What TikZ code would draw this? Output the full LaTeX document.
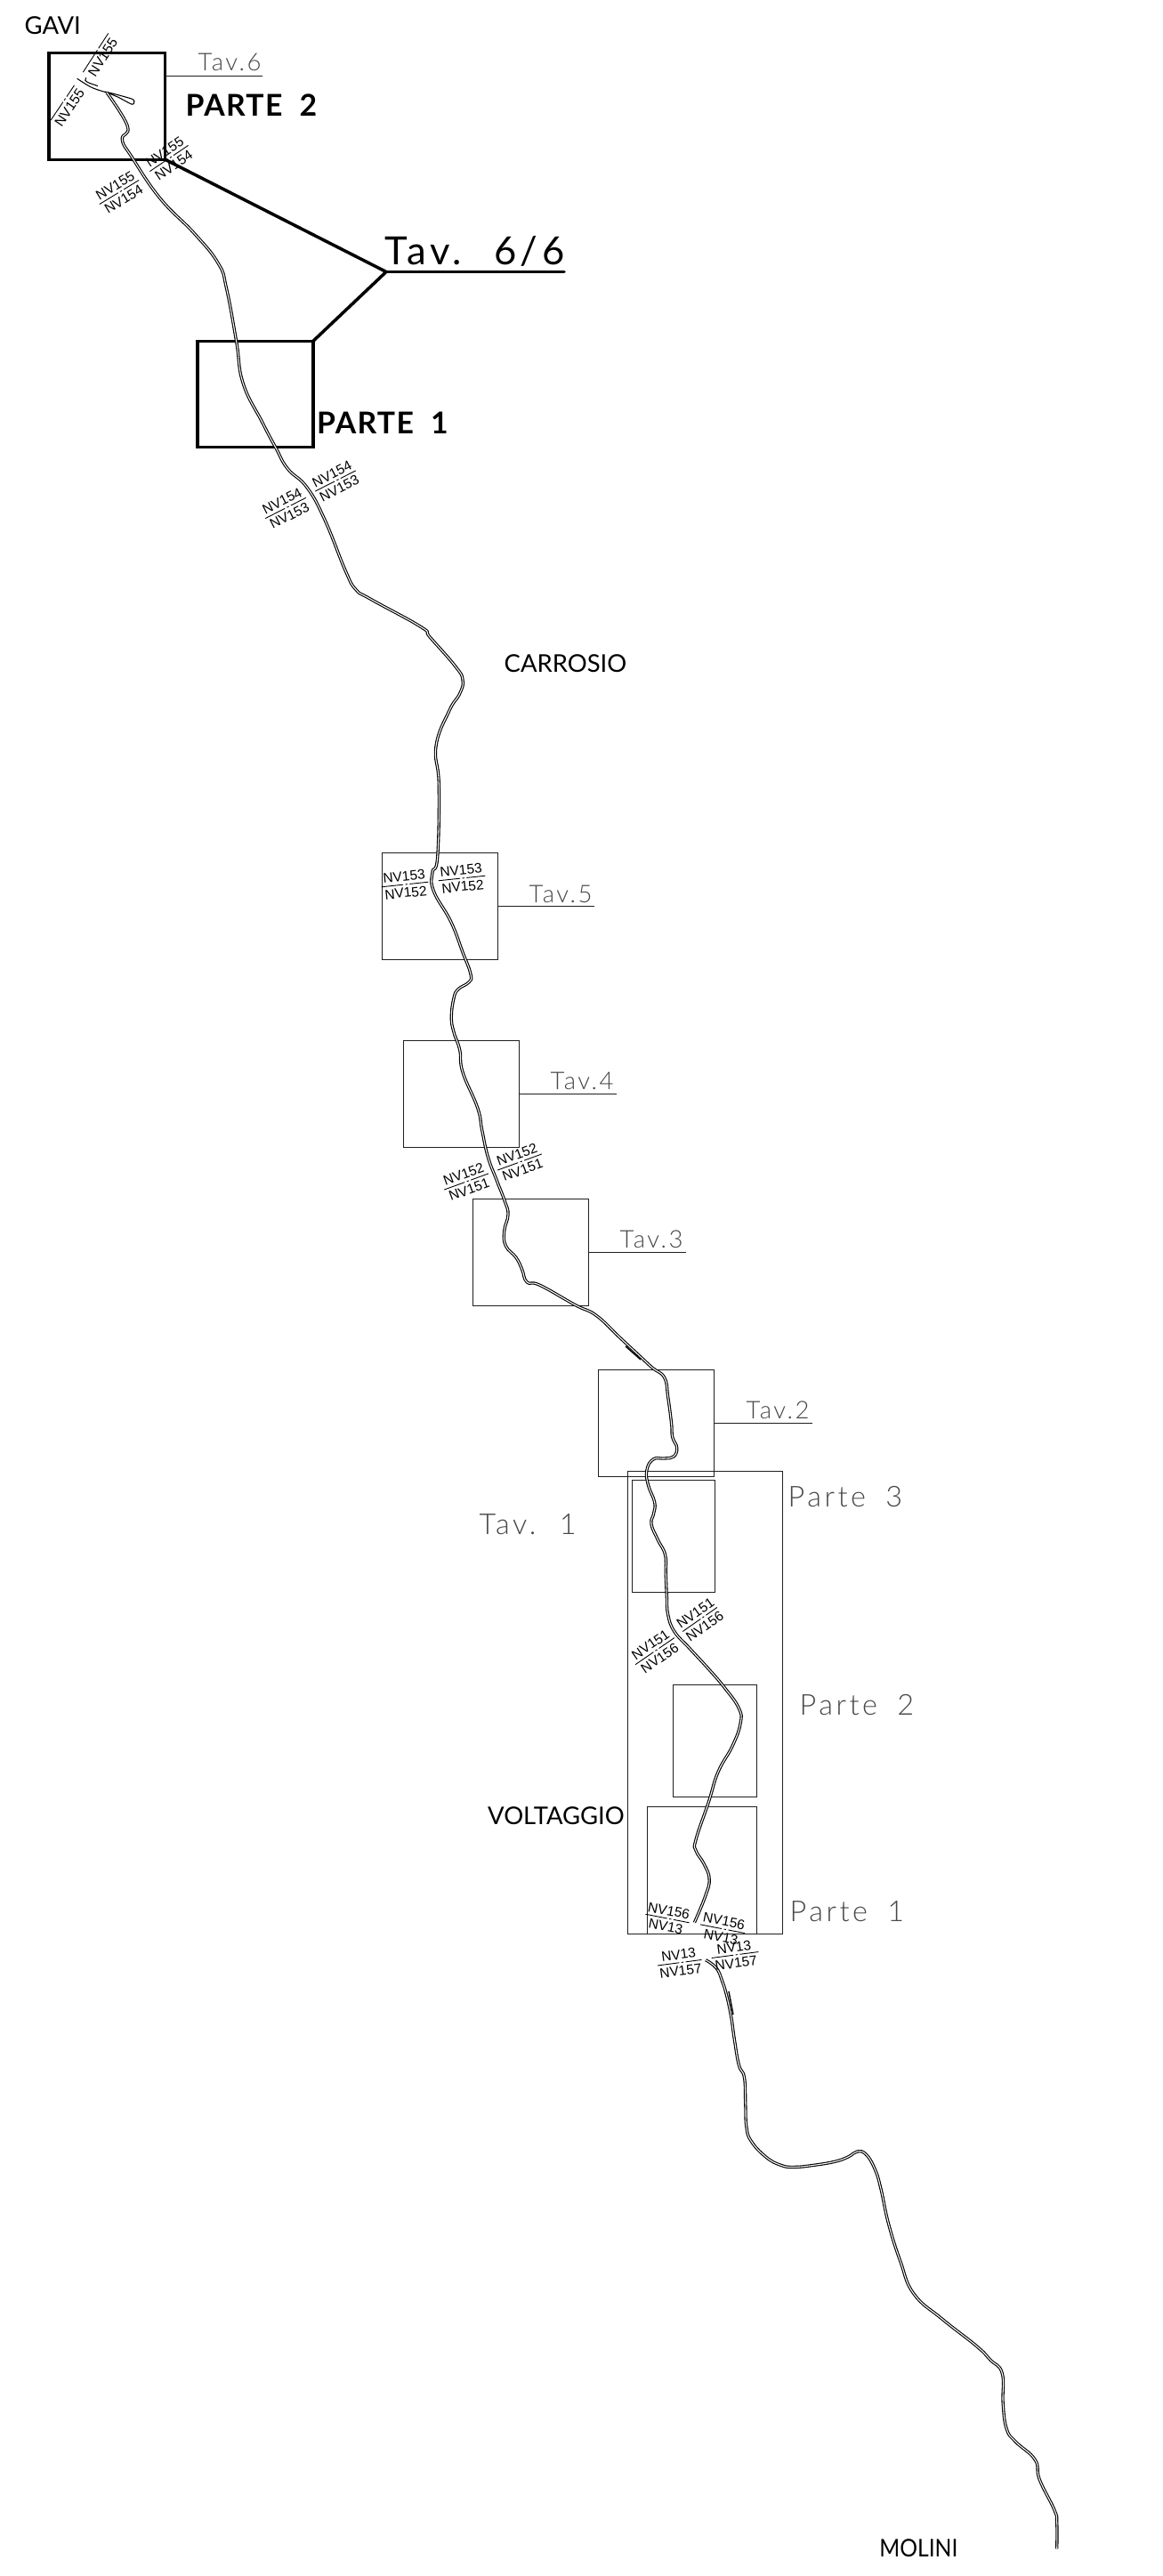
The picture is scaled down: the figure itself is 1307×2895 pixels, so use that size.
\documentclass[tikz,border=0pt]{standalone}
\usepackage{fontspec}
\usepackage{xcolor}
\usetikzlibrary{positioning}
\newfontfamily\cadthin[LetterSpace=9]{Lato Light}
\newfontfamily\cadwide[LetterSpace=11,WordSpace=1.8]{Lato Light}
\newfontfamily\cadplain{Lato}
\newfontfamily\cadtitle[LetterSpace=10,WordSpace=2]{Lato}
\newfontfamily\cadbold[LetterSpace=4,WordSpace=2]{Lato Bold}
\newfontfamily\cadtag{Liberation Sans}
\definecolor{ink}{rgb}{0.12,0.12,0.12}
\definecolor{plot}{rgb}{0.28,0.28,0.28}
\tikzset{
  sheet/.style={draw=ink,line width=0.29pt,inner sep=0,outer sep=0},
  heavysheet/.style={draw=black,line width=0.9pt,inner sep=0,outer sep=0},
  leader/.style={draw=ink,line width=0.29pt},
  heavyleader/.style={draw=black,line width=1pt,line cap=round},
  sheetname/.style={inner sep=0,anchor=base west,text=plot,font=\cadthin\fontsize{7.8}{10}\selectfont},
  widename/.style={inner sep=0,anchor=base west,text=plot,font=\cadwide\fontsize{9.2}{11}\selectfont},
  place/.style={inner sep=0,anchor=base west,font=\cadplain\fontsize{7.8}{10}\selectfont},
  partname/.style={inner sep=0,anchor=base west,font=\cadbold\fontsize{9.6}{12}\selectfont},
  nvtext/.style={inner sep=0,outer sep=0,align=center,text height=3.2pt,text depth=0pt,font=\cadtag\fontsize{4.4}{5}\selectfont},
  nvrule/.style={line width=0.25pt,dash pattern=on 7pt off 0.7pt on 0.7pt off 0.7pt},
  road/.style={draw=black,line width=0.32pt,double=white,double distance=0.3pt},
  roadedge/.style={draw=black,line width=0.3pt},
}
% id, position, angle, length, upper text, lower text
\newcommand{\nvtag}[6]{
  \node[nvtext,rotate=#3,anchor=south,minimum width=#4] (#1up) at (#2) {\raisebox{1pt}{#5}};
  \node[nvtext,rotate=#3,anchor=north,minimum width=#4] (#1low) at (#2) {\raisebox{-1pt}[\height][0pt]{#6}};
  \draw[nvrule] (#1up.south west) -- (#1up.south east);
}
\begin{document}
\begin{tikzpicture}[x=0.01cm,y=-0.01cm]
  \useasboundingbox (0,0) rectangle (1307,2895);

  % sheets
  \node[heavysheet,minimum width=1.305cm,minimum height=1.2cm] (partetwo) at (120.25,119.25) {};
  \node[heavysheet,minimum width=1.3cm,minimum height=1.195cm] (parteone) at (287,443) {};
  \node[sheet,minimum width=1.3cm,minimum height=1.2cm] (tavfive) at (494.5,1018.5) {};
  \node[sheet,minimum width=1.3cm,minimum height=1.2cm] (tavfour) at (518.5,1229.5) {};
  \node[sheet,minimum width=1.3cm,minimum height=1.2cm] (tavthree) at (596.5,1407.5) {};
  \node[sheet,minimum width=1.3cm,minimum height=1.2cm] (tavtwo) at (737.5,1599.5) {};
  \node[sheet,minimum width=1.74cm,minimum height=5.2cm] (tavone) at (792.5,1913.5) {};
  \node[sheet,minimum width=0.93cm,minimum height=1.26cm] (secthree) at (757,1726.5) {};
  \node[sheet,minimum width=0.94cm,minimum height=1.26cm] (sectwo) at (803.5,1956.5) {};
  \node[sheet,minimum width=1.23cm,minimum height=1.43cm] (secone) at (789,2102) {};

  % leaders
  \coordinate (tavsixstart) at (185.5,85.5);
  \coordinate (tavsixend) at (295,85.5);
  \coordinate (tavfiveend) at (668,1018.5);
  \coordinate (tavfourend) at (693,1229.5);
  \coordinate (tavthreeend) at (771,1407.5);
  \coordinate (tavtwoend) at (913,1599.5);
  \coordinate (tavjoin) at (434,305.5);
  \coordinate (tavlast) at (634,305.5);
  \draw[leader] (tavsixstart) -- (tavsixend);
  \draw[leader] (tavfive.east) -- (tavfiveend);
  \draw[leader] (tavfour.east) -- (tavfourend);
  \draw[leader] (tavthree.east) -- (tavthreeend);
  \draw[leader] (tavtwo.east) -- (tavtwoend);
  \draw[heavyleader] (partetwo.south east) -- (tavjoin);
  \draw[heavyleader] (parteone.north east) -- (tavjoin);
  \draw[heavyleader] (tavjoin) -- (tavlast);

  % road
  \draw[roadedge] plot[smooth,tension=0.6] coordinates {(86.7,88.3) (103,98.3) (120,104)};
  \draw[roadedge] (96.7,87.3) .. controls (93,92) and (100,93) .. (110,96.7);
  \draw[roadedge] plot[smooth cycle,tension=0.4] coordinates {(120,103.5) (148.3,111.2) (150.7,115) (148.3,117.3) (133.3,109.5)};
  \draw[road] plot[smooth,tension=0.75] coordinates {(120,104) (143.3,141.7) (137.3,156.7) (148.3,176.7) (180,223) (218.8,262.8) (245.5,296.4) (254.5,324) (265.6,383.4) (273.2,430.8) (294.6,474.3) (310.3,504) (323.3,526.8) (345,547.8) (365,584.2) (388.3,641.6) (400,662.6) (416.7,673.4) (473.3,704.7) (483.3,716.2) (511.7,748.8) (520,764) (516.7,779.4) (505,798.5) (490,838.7) (493.3,882.7) (491.7,963) (486,980.3) (487.3,1001.3) (506.7,1035.8) (520,1070.2) (529,1095) (526.7,1104) (515,1111.7) (510,1121.7) (507.3,1143.3) (510,1160) (516.7,1180) (520,1205) (536.7,1245) (541.7,1270) (548.3,1300) (558.3,1326.7) (567.3,1350) (571,1365) (566.7,1383.3) (568.3,1400) (580,1413.3) (586.7,1426.7) (592.3,1441) (606.7,1444.3) (646.7,1466.7) (670,1478.3) (696.7,1503.3) (720,1525) (733.3,1537.3) (746.7,1548.3) (750.7,1570) (754.6,1600) (755.7,1615) (760.7,1627) (757,1637) (746.4,1639) (734,1640) (726.8,1652.6) (728.6,1669.4) (735.7,1688.4) (734.6,1701) (732,1712.8) (739.3,1730.5) (747.5,1747.3) (748.2,1768.4) (749.3,1793.6) (750.7,1814.6) (757.9,1833.6) (775,1852.5) (796.4,1875.7) (814.3,1896.7) (830.4,1919.9) (832.1,1936.7) (823.2,1962) (807,1991.4) (796.4,2025) (782.1,2067.2) (782.1,2079.8) (791,2094.5) (797.1,2111.4) (792.9,2130.3) (780.4,2160.6)};
  \draw[road] plot[smooth,tension=0.75] coordinates {(793,2202.7) (805,2211.7) (811.7,2226.7) (816.7,2243) (821.7,2266.7) (825.4,2292.4) (830.4,2320.8) (836.5,2334.9) (837.8,2365.3) (838.8,2389.6) (843.9,2405.8) (860.7,2424) (877.5,2433.3) (892.6,2435.4) (914.5,2433.3) (938,2429.3) (953.1,2424) (963.2,2418) (973.3,2421.2) (983.4,2438.2) (990.1,2460.5) (998.5,2499) (1011.9,2541.5) (1027,2577.9) (1059,2606.3) (1097.6,2636.7) (1112.8,2652) (1126.2,2667) (1127.2,2701.5) (1131.3,2729.8) (1141.3,2744) (1163.2,2764.3) (1168.2,2786.5) (1185,2821) (1187.7,2835) (1187.7,2864.3)};
  \draw[line width=0.4pt] (703,1513) -- (720,1528);
  \draw[line width=0.4pt] (819,2238) -- (824,2264);

  % section marks
  \nvtag{nvlow}{134,216}{31.4}{0.52cm}{NV155}{NV154}
  \nvtag{nvcorner}{190,178}{34}{0.52cm}{NV155}{NV154}
  \nvtag{nvfourl}{321,571}{27}{0.51cm}{NV154}{NV153}
  \nvtag{nvfourr}{377,540.5}{27}{0.51cm}{NV154}{NV153}
  \nvtag{nvthreel}{455,994}{6}{0.53cm}{NV153}{NV152}
  \nvtag{nvthreer}{519,987}{6}{0.53cm}{NV153}{NV152}
  \nvtag{nvtwol}{524,1328}{20}{0.53cm}{NV152}{NV151}
  \nvtag{nvtwor}{584,1306}{20}{0.53cm}{NV152}{NV151}
  \nvtag{nvonel}{736,1855.6}{34.5}{0.53cm}{NV151}{NV156}
  \nvtag{nvoner}{786.5,1820}{35}{0.44cm}{NV151}{NV156}
  \nvtag{nvsixl}{750,2156}{-11}{0.5cm}{NV156}{NV13}
  \nvtag{nvsixr}{812,2167.7}{-11}{0.51cm}{NV156}{NV13}
  \nvtag{nvthirl}{763.7,2205.7}{7.5}{0.5cm}{NV13}{NV157}
  \nvtag{nvthirr}{826,2197}{7.5}{0.53cm}{NV13}{NV157}
  \node[nvtext,rotate=56,anchor=north,minimum width=0.47cm] (nvtopl) at (70.3,115.5) {\raisebox{-1pt}[\height][0pt]{NV155}};
  \draw[nvrule] (nvtopl.north west) -- (nvtopl.north east);
  \node[nvtext,rotate=57,anchor=north,minimum width=0.52cm] (nvtopr) at (107.5,59.3) {\raisebox{-1pt}[\height][0pt]{NV155}};
  \draw[nvrule] (nvtopr.north west) -- (nvtopr.north east);

  % names
  \node[place] (gavi) at (27,39) {GAVI};
  \node[place] (carrosio) at (566,756) {CARROSIO};
  \node[place] (voltaggio) at (547.5,2050) {VOLTAGGIO};
  \node[place] (molini) at (987.7,2873.6) {\scalebox{0.9}[1]{MOLINI}};
  \node[partname] (parttwo) at (208,131) {PARTE 2};
  \node[partname] (partone) at (355.5,488) {PARTE 1};
  \node[inner sep=0,anchor=base west,font=\cadtitle\fontsize{12.4}{14}\selectfont] (tavtotal) at (432,298) {Tav. 6/6};
  \node[sheetname] (tavsix) at (222,80) {Tav.6};
  \node[sheetname] (tavfivetext) at (594,1014) {Tav.5};
  \node[sheetname] (tavfourtext) at (618,1224) {Tav.4};
  \node[sheetname] (tavthreetext) at (696,1402) {Tav.3};
  \node[sheetname] (tavtwotext) at (838,1594) {Tav.2};
  \node[widename] (tavonetext) at (538,1724) {Tav. 1};
  \node[widename] (secthreetext) at (885,1693) {Parte 3};
  \node[widename] (sectwotext) at (898,1927) {Parte 2};
  \node[widename] (seconetext) at (887,2159) {Parte 1};
\end{tikzpicture}
\end{document}
